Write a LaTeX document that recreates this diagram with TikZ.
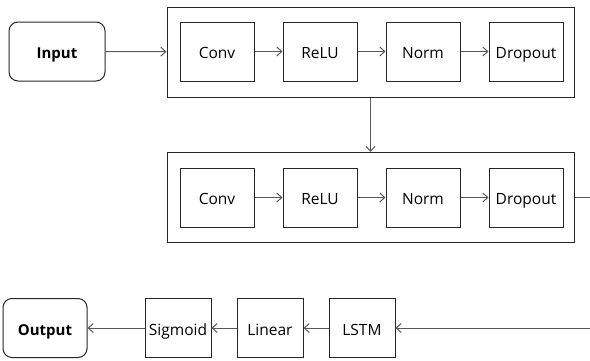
\documentclass[tikz,border=0pt]{standalone}
\usepackage{fontspec}
\setmainfont{Open Sans}
\usepackage{tikz}
\usetikzlibrary{positioning, arrows.meta}
\tikzset{
    x=1pt, y=-1pt, % one unit is one pixel of the sketch
    >={Straight Barb[length=5pt, width=9pt]}, % thin open arrow heads
    link/.style={->, draw=black!65, line width=1pt}, % sets the look of every connector
    layer/.style={draw=black!85, line width=1pt, minimum width=74pt, minimum height=59pt, inner sep=0pt, text height=14pt, text depth=0pt, font=\fontsize{15.5}{18}\selectfont}, % one layer box
    small/.style={layer, minimum width=66pt}, % layer boxes in the last row
    term/.style={layer, rounded corners=9pt, font=\fontsize{15}{18}\selectfont\bfseries}, % input and output
    group/.style={draw=black!85, line width=1pt, minimum width=407pt, minimum height=90pt, inner sep=0pt} % frame round one block
}
\begin{document}
\begin{tikzpicture}
		\useasboundingbox (0,0) rectangle (590,360);
		% Frames
		\node[group](B1) at (370.5,52) {};
		\node[group](B2) at (370.5,197.5) {};
		
		% First block
		\node[term, minimum width=96pt](IN) at (57,51.5) {Input};
		\node[layer](C1) at (217,51.5) {Conv};
		\node[layer, right=28pt of C1](R1) {ReLU};
		\node[layer, right=28pt of R1](N1) {Norm};
		\node[layer, right=28pt of N1](D1) {Dropout};
		
		% Second block
		\node[layer](C2) at (217,197.5) {Conv};
		\node[layer, right=28pt of C2](R2) {ReLU};
		\node[layer, right=28pt of R2](N2) {Norm};
		\node[layer, right=28pt of N2](D2) {Dropout};
		
		% Last row
		\node[small](LS) at (362,328) {LSTM};
		\node[small, left=25pt of LS](LI) {Linear};
		\node[small, left=25pt of LI](SG) {Sigmoid};
		\node[term, minimum width=84pt, left=57pt of SG](OUT) {Output};
		\coordinate (turn) at (592,197.5);
		
		% Connectors
		\draw[link] (IN) -- (B1);
		\draw[link] (C1) -- (R1);
		\draw[link] (R1) -- (N1);
		\draw[link] (N1) -- (D1);
		\draw[link] (B1) -- (B2);
		\draw[link] (C2) -- (R2);
		\draw[link] (R2) -- (N2);
		\draw[link] (N2) -- (D2);
		\draw[link] (B2.east) -- (turn) |- (LS);
		\draw[link] (LS) -- (LI);
		\draw[link] (LI) -- (SG);
		\draw[link] (SG) -- (OUT);
	\end{tikzpicture}
\end{document}
